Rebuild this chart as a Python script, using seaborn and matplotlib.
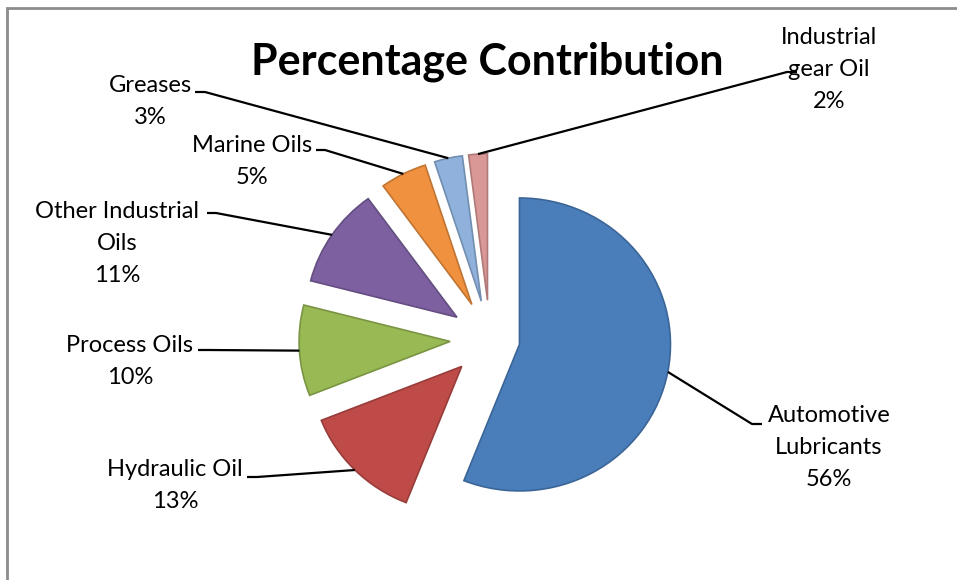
import matplotlib
matplotlib.use("Agg")
import matplotlib.pyplot as plt
import seaborn as sns
import numpy as np
from matplotlib.patches import Rectangle
from matplotlib.transforms import Affine2D

# ---- data ----
categories = ["Automotive\nLubricants", "Hydraulic Oil", "Process Oils",
              "Other Industrial\nOils", "Marine Oils", "Greases",
              "Industrial\ngear Oil"]
values = [56, 13, 10, 11, 5, 3, 2]
colors = ["#4A7EBB", "#BE4B48", "#98B954", "#7D60A0", "#F0913F", "#8FB1DC", "#D99795"]

sns.set_theme(style="white")
plt.rcParams['font.family'] = ['Lato', 'DejaVu Sans']

W, H = 957, 580
fig = plt.figure(figsize=(W / 100, H / 100), dpi=100)
ax = fig.add_axes([0, 0, 1, 1])
ax.axis('off')

def py(y):
    return H - y

# border frame (extends off right/bottom edge as in the reference)
ax.add_patch(Rectangle((7, py(600)), 1000, 600 - 8, fill=False,
                       edgecolor="#8C8C8C", linewidth=2))

# pie (explode given in data units since radius is in pixels)
cx, cy, R = 490, 339, 151
squash = 0.97  # slight perspective tilt of the pie
explode = [30, 40, 40, 40, 40, 40, 40]
wedges, _ = ax.pie(values, colors=colors, startangle=90, counterclock=False,
                   center=(cx, py(cy)), radius=R, explode=explode)
tilt = Affine2D().translate(-cx, -py(cy)).scale(1, squash).translate(cx, py(cy))
for w, c in zip(wedges, colors):
    w.set_edgecolor(tuple(np.clip(np.array(matplotlib.colors.to_rgb(c)) * 0.8, 0, 1)))
    w.set_linewidth(1.2)
    w.set_transform(tilt + ax.transData)

ax.set_xlim(0, W)
ax.set_ylim(0, H)
ax.set_aspect('equal')

# title
ax.text(487, py(62), "Percentage Contribution", ha="center", va="center",
        fontsize=31, fontweight="bold", color="black")

# label layout: (text centre x, first-line y, tick start x, tick end x, tick y)
layout = [
    (829, 416, 762, 752, 424),
    (175, 470, 247, 257, 477),
    (130, 345, 198, 208, 350),
    (117, 211, 207, 216, 213),
    (252, 145, 316, 325, 150),
    (150, 85, 195, 205, 92),
    (829, 38, 797, 787, 72),
]
line_h = 32
for w, cat, val, (tx, ty, sx, ex, ly) in zip(wedges, categories, values, layout):
    lines = cat.split("\n") + [f"{val}%"]
    for i, s in enumerate(lines):
        ax.text(tx, py(ty + i * line_h), s, ha="center", va="center",
                fontsize=17, color="black")
    # target: middle of the wedge's arc (after the tilt)
    mid = np.deg2rad((w.theta1 + w.theta2) / 2)
    wx, wy = w.center
    p = tilt.transform([wx + w.r * np.cos(mid), wy + w.r * np.sin(mid)])
    ax.plot([sx, ex, p[0]], [py(ly), py(ly), p[1]], color="black", linewidth=1.6,
            solid_capstyle="butt")

fig.savefig("out.png", dpi=100)
